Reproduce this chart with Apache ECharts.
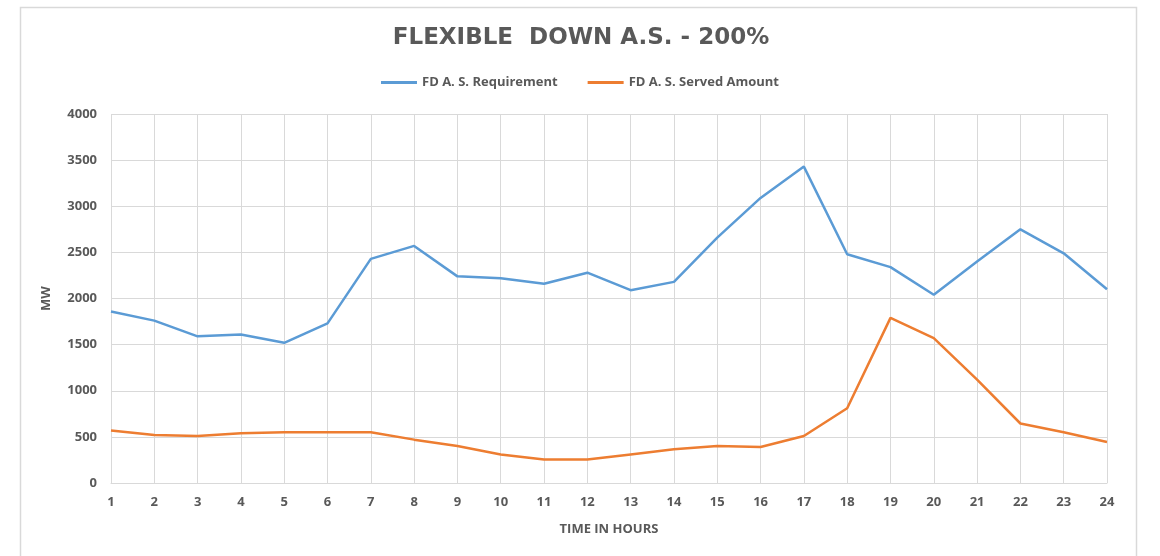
<!DOCTYPE html>
<html>
<head>
<meta charset="utf-8">
<script src="https://cdn.jsdelivr.net/npm/echarts@6/dist/echarts.min.js"></script>
<style>
  html, body { margin: 0; padding: 0; background: #fff; }
  #chart { width: 1160px; height: 556px; }
</style>
</head>
<body>
<div id="chart"></div>
<script>
// Hourly flexible-down ancillary service: requirement vs. served amount (MW)
const hours = ['1','2','3','4','5','6','7','8','9','10','11','12','13','14','15','16','17','18','19','20','21','22','23','24'];
const requirement = [1860, 1760, 1590, 1610, 1520, 1730, 2430, 2570, 2240, 2220, 2160, 2280,
                     2090, 2180, 2660, 3090, 3430, 2480, 2340, 2040, 2400, 2750, 2490, 2100];
const served = [570, 520, 510, 540, 550, 550, 550, 470, 400, 310, 255, 255,
                310, 365, 400, 390, 510, 810, 1790, 1570, 1120, 645, 550, 445];
const yTicks = { min: 0, max: 4000, interval: 500 };

const textGray = '#595959';
const gridGray = '#d9d9d9';
const font = 'Open Sans';

const chart = echarts.init(document.getElementById('chart'), null, { renderer: 'canvas' });
chart.setOption({
  backgroundColor: '#ffffff',
  animation: false,
  graphic: [{
    type: 'rect',
    left: 18, top: 5,
    shape: { width: 1116, height: 600 },
    style: { fill: 'none', stroke: gridGray, lineWidth: 1.5 },
    silent: true, z: -1
  }],
  title: {
    text: 'FLEXIBLE  DOWN A.S. - 200%',
    left: 576, top: 22, textAlign: 'center',
    textStyle: { fontFamily: 'DejaVu Sans', fontSize: 23, fontWeight: 'bold', color: textGray }
  },
  legend: {
    top: 71, left: 'center',
    itemWidth: 36, itemHeight: 3, itemGap: 30,
    icon: 'rect',
    textStyle: { fontFamily: font, fontSize: 13, fontWeight: 'bold', color: textGray },
    data: ['FD A. S. Requirement', 'FD A. S. Served Amount']
  },
  grid: { left: 111, right: 53, top: 114, bottom: 73, containLabel: false },
  xAxis: {
    type: 'category',
    data: hours,
    boundaryGap: false,
    name: 'TIME IN HOURS',
    nameLocation: 'middle',
    nameGap: 40,
    nameTextStyle: { fontFamily: font, fontSize: 13, fontWeight: 'bold', color: textGray },
    axisLine: { lineStyle: { color: gridGray, width: 1 } },
    axisTick: { show: false },
    axisLabel: { fontFamily: font, fontSize: 13, fontWeight: 'bold', color: textGray, margin: 13 },
    splitLine: { show: true, lineStyle: { color: gridGray, width: 1 } }
  },
  yAxis: {
    type: 'value',
    min: yTicks.min, max: yTicks.max, interval: yTicks.interval,
    name: 'MW',
    nameLocation: 'middle',
    nameGap: 58,
    nameRotate: 90,
    nameTextStyle: { fontFamily: font, fontSize: 13, fontWeight: 'bold', color: textGray },
    axisLine: { show: false },
    axisTick: { show: false },
    axisLabel: {
      fontFamily: font, fontSize: 13, fontWeight: 'bold', color: textGray, margin: 14,
      formatter: (v) => String(v)
    },
    splitLine: { show: true, lineStyle: { color: gridGray, width: 1 } }
  },
  series: [
    {
      name: 'FD A. S. Requirement',
      type: 'line',
      data: requirement,
      symbol: 'none',
      lineStyle: { color: '#5b9bd5', width: 2.5 },
      itemStyle: { color: '#5b9bd5' }
    },
    {
      name: 'FD A. S. Served Amount',
      type: 'line',
      data: served,
      symbol: 'none',
      lineStyle: { color: '#ed7d31', width: 2.5 },
      itemStyle: { color: '#ed7d31' }
    }
  ]
});
</script>
</body>
</html>
